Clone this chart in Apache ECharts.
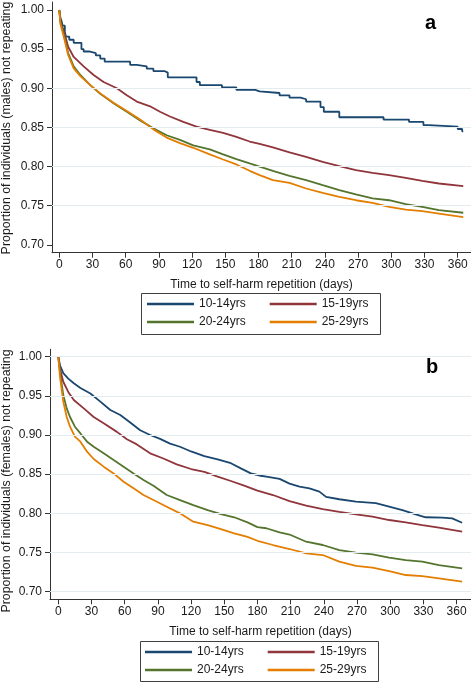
<!DOCTYPE html>
<html>
<head>
<meta charset="utf-8">
<script src="https://cdn.jsdelivr.net/npm/echarts@6/dist/echarts.min.js"></script>
<style>
html,body{margin:0;padding:0;background:#fff;}
#c{width:471px;height:682px;}
</style>
</head>
<body>
<div id="c"></div>
<script>
// ---- data ----
const groups = ['10-14yrs', '15-19yrs', '20-24yrs', '25-29yrs'];
const xTicks = [0, 30, 60, 90, 120, 150, 180, 210, 240, 270, 300, 330, 360];
const yTicks = [0.70, 0.75, 0.80, 0.85, 0.90, 0.95, 1.00];
const gridLinesA = [0.75, 0.80, 0.85, 0.90];
const gridLinesB = [0.70, 0.75, 0.80, 0.85, 0.90, 0.95, 1.00];
const panelA = 'a';
const panelB = 'b';
const xTitle = 'Time to self-harm repetition (days)';
const yTitleA = 'Proportion of individuals (males) not repeating';
const yTitleB = 'Proportion of individuals (females) not repeating';

// males
const males1014 = [[0,1.000],[1,0.990],[2,0.986],[3,0.980],[5,0.972],[6,0.966],[9,0.962],[13,0.958],[20,0.950],[22,0.947],[27,0.945],[33,0.942],[37,0.938],[41,0.934],[64,0.930],[70,0.928],[79,0.925],[85,0.922],[95,0.920],[98,0.914],[124,0.908],[127,0.904],[147,0.901],[160,0.898],[177,0.896],[181,0.894],[199,0.891],[208,0.888],[218,0.886],[223,0.883],[236,0.876],[239,0.870],[253,0.863],[293,0.860],[316,0.857],[329,0.853],[334,0.851],[360,0.848],[364,0.845],[365,0.845]];
const males1519 = [[0,1.000],[1,0.985],[4,0.974],[8,0.953],[13,0.940],[22,0.928],[31,0.917],[40,0.908],[52,0.900],[61,0.891],[70,0.883],[82,0.877],[91,0.870],[100,0.864],[112,0.857],[124,0.851],[136,0.847],[148,0.843],[160,0.838],[172,0.832],[181,0.829],[193,0.8245],[208,0.818],[223,0.8125],[238,0.806],[253,0.8006],[268,0.7955],[283,0.792],[298,0.789],[313,0.7857],[328,0.7818],[343,0.7784],[365,0.775]];
const males2024 = [[0,1.000],[1,0.985],[4,0.970],[8,0.945],[13,0.928],[19,0.917],[28,0.904],[37,0.893],[49,0.881],[61,0.870],[73,0.859],[85,0.849],[97,0.840],[109,0.834],[121,0.827],[136,0.822],[148,0.8155],[160,0.8095],[172,0.804],[181,0.800],[193,0.7946],[208,0.7882],[223,0.7827],[238,0.7763],[253,0.770],[268,0.7644],[283,0.7593],[298,0.757],[313,0.752],[328,0.7486],[343,0.7443],[365,0.741]];
const males2529 = [[0,1.000],[1,0.982],[4,0.966],[8,0.9425],[13,0.9254],[19,0.9156],[28,0.904],[37,0.8935],[49,0.8815],[61,0.871],[73,0.860],[85,0.8475],[97,0.837],[109,0.830],[121,0.824],[136,0.8155],[148,0.809],[160,0.8027],[172,0.7946],[181,0.789],[193,0.7827],[208,0.7793],[223,0.772],[238,0.7665],[253,0.7614],[268,0.757],[283,0.7537],[298,0.7486],[313,0.745],[328,0.743],[343,0.740],[365,0.7354]];

// females
const females1014 = [[0,1.000],[1.5,0.989],[4.5,0.979],[9,0.972],[14,0.966],[20,0.960],[29,0.953],[38,0.9426],[47,0.932],[56,0.9255],[65,0.916],[74,0.906],[83,0.900],[92,0.895],[101,0.889],[110,0.885],[120,0.879],[132,0.873],[144,0.869],[156,0.864],[165,0.8574],[174,0.851],[183,0.848],[188,0.847],[200,0.844],[209,0.838],[218,0.834],[227,0.832],[236,0.8277],[242,0.821],[254,0.818],[269,0.815],[287,0.813],[299,0.8085],[311,0.804],[323,0.7987],[332,0.795],[347,0.7945],[356,0.7936],[365,0.788]];
const females1519 = [[0,1.000],[1.5,0.985],[4.5,0.968],[9,0.955],[14,0.9447],[23,0.934],[32,0.923],[41,0.915],[53,0.904],[62,0.8945],[71,0.888],[83,0.8766],[95,0.870],[107,0.8626],[120,0.8566],[132,0.853],[144,0.8468],[156,0.8413],[168,0.8353],[180,0.829],[194,0.8234],[209,0.8157],[224,0.8098],[239,0.8055],[254,0.802],[269,0.7987],[284,0.7957],[299,0.7915],[314,0.7885],[329,0.785],[344,0.7817],[365,0.7766]];
const females2024 = [[0,1.000],[1.5,0.981],[4.5,0.951],[7.6,0.934],[10.6,0.923],[15,0.9106],[20,0.902],[26,0.8915],[32,0.885],[41,0.8766],[50,0.868],[59,0.8596],[68,0.851],[77,0.8426],[86,0.8353],[98,0.8234],[110,0.817],[122,0.8106],[135,0.804],[147,0.799],[159,0.795],[171,0.7885],[180,0.7825],[188,0.781],[200,0.7757],[209,0.773],[224,0.7638],[239,0.7596],[254,0.7532],[269,0.750],[284,0.7477],[299,0.7434],[314,0.7404],[329,0.7383],[344,0.734],[365,0.7298]];
const females2529 = [[0,1.000],[1.5,0.9745],[4.5,0.9426],[7.6,0.923],[10.6,0.9106],[15,0.898],[20,0.8915],[26,0.8787],[32,0.8694],[41,0.8596],[50,0.851],[59,0.8404],[68,0.832],[77,0.8234],[86,0.817],[98,0.8085],[110,0.800],[122,0.7894],[135,0.785],[147,0.780],[159,0.7745],[171,0.770],[180,0.765],[194,0.7596],[209,0.7545],[224,0.749],[239,0.7468],[254,0.7383],[269,0.733],[284,0.7306],[299,0.7264],[314,0.7213],[329,0.720],[344,0.717],[365,0.7128]];

// ---- styling ----
const FONT = '"Liberation Sans", Arial, Helvetica, sans-serif';
const colors = ['#1a476f', '#90353b', '#55752f', '#e37e00'];
const axisColor = '#333333';
const textColor = '#1a1a1a';
const gridColor = '#e3edf0';

const chart = echarts.init(document.getElementById('c'), null, {renderer: 'canvas'});

function xAxisCfg(gi, min, max) {
  return {
    gridIndex: gi, type: 'value', min: min, max: max,
    axisLine: {show: true, onZero: false, lineStyle: {color: axisColor, width: 1}},
    axisTick: {show: true, length: 5, customValues: xTicks, lineStyle: {color: axisColor}},
    axisLabel: {customValues: xTicks, margin: 6, fontSize: 12, color: textColor, fontFamily: FONT},
    splitLine: {show: false},
    name: xTitle, nameLocation: 'middle', nameGap: 26,
    nameTextStyle: {fontSize: 12, color: textColor, fontFamily: FONT}
  };
}
function yAxisCfg(gi, min, max) {
  return {
    gridIndex: gi, type: 'value', min: min, max: max,
    axisLine: {show: true, onZero: false, lineStyle: {color: axisColor, width: 1}},
    axisTick: {show: true, length: 5, customValues: yTicks, lineStyle: {color: axisColor}},
    axisLabel: {customValues: yTicks, margin: 8, fontSize: 12, color: textColor, fontFamily: FONT,
      formatter: v => v.toFixed(2)},
    splitLine: {show: false}
  };
}

const series = [];
function addGridLines(gi, vals) {
  series.push({
    type: 'line', xAxisIndex: gi, yAxisIndex: gi, data: [], silent: true, z: 1,
    markLine: {silent: true, symbol: ['none', 'none'], label: {show: false},
      lineStyle: {color: gridColor, width: 1, type: 'solid'},
      animation: false,
      data: vals.map(v => ({yAxis: v}))}
  });
}
addGridLines(0, gridLinesA);
addGridLines(1, gridLinesB);

const malesData = [males1014, males1519, males2024, males2529];
const femalesData = [females1014, females1519, females2024, females2529];
[malesData, femalesData].forEach((set, gi) => {
  set.forEach((d, i) => {
    series.push({
      name: groups[i], type: 'line', xAxisIndex: gi, yAxisIndex: gi,
      data: d, showSymbol: false, symbol: 'none', z: 3,
      step: (gi === 0 && i === 0) ? 'end' : false,
      lineStyle: {color: colors[i], width: 1.8},
      itemStyle: {color: colors[i]},
      animation: false
    });
  });
});

function legendCfg(names, left, top) {
  return {
    data: names, left: left, top: top, orient: 'horizontal', padding: 0,
    itemWidth: 47, itemHeight: 2.5, itemGap: 24, icon: 'rect', selectedMode: false,
    textStyle: {fontSize: 12, color: textColor, fontFamily: FONT}
  };
}

chart.setOption({
  animation: false,
  backgroundColor: '#ffffff',
  grid: [
    {left: 52, right: 0, top: 2, height: 250.7},
    {left: 50, right: 0, top: 349.3, height: 250}
  ],
  xAxis: [xAxisCfg(0, -6.6, 372), xAxisCfg(1, -7.5, 373)],
  yAxis: [yAxisCfg(0, 0.69, 1.0102), yAxisCfg(1, 0.6903, 1.0094)],
  legend: [
    legendCfg([groups[0], groups[1]], 147, 298),
    legendCfg([groups[2], groups[3]], 147, 316),
    legendCfg([groups[0], groups[1]], 145, 646),
    legendCfg([groups[2], groups[3]], 145, 664)
  ],
  series: series,
  graphic: [
    {type: 'rect', shape: {x: 141.5, y: 293.5, width: 239, height: 41}, style: {fill: 'none', stroke: '#404040', lineWidth: 1}, z: 10},
    {type: 'rect', shape: {x: 140.5, y: 641.5, width: 238, height: 40}, style: {fill: 'none', stroke: '#404040', lineWidth: 1}, z: 10},
    {type: 'text', x: 425, y: 33, style: {text: panelA, font: 'bold 20px ' + FONT, fill: '#000', textAlign: 'left', textVerticalAlign: 'bottom'}, z: 10},
    {type: 'text', x: 426, y: 377, style: {text: panelB, font: 'bold 20px ' + FONT, fill: '#000', textAlign: 'left', textVerticalAlign: 'bottom'}, z: 10},
    {type: 'text', x: 7, y: 128, rotation: Math.PI / 2, style: {text: yTitleA, font: '12.4px ' + FONT, fill: textColor, textAlign: 'center', textVerticalAlign: 'middle'}, z: 10},
    {type: 'text', x: 7, y: 481, rotation: Math.PI / 2, style: {text: yTitleB, font: '12.4px ' + FONT, fill: textColor, textAlign: 'center', textVerticalAlign: 'middle'}, z: 10}
  ]
});
</script>
</body>
</html>
